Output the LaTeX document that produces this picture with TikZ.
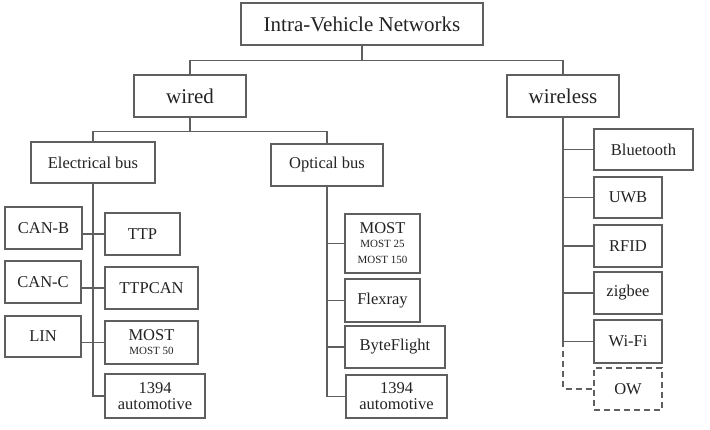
\documentclass[tikz,border=0pt]{standalone}
\usepackage{fontspec}
\setmainfont{Liberation Serif}
\usepackage{tikz}
\usetikzlibrary{calc}

\definecolor{linegray}{RGB}{95,95,95}
\definecolor{textgray}{RGB}{35,35,35}

\begin{document}
\begin{tikzpicture}[
    x=1pt, y=-1pt,
    box/.style={rectangle, draw=linegray, line width=1.2pt, fill=white, inner sep=1pt,
        align=center, text=textgray, font=\fontsize{16.5}{17}\selectfont},
    head/.style={box, font=\fontsize{21}{23}\selectfont},
    link/.style={draw=linegray, line width=1.2pt},
    dashes/.style={dash pattern=on 6pt off 4pt}
]
    \useasboundingbox (0,0) rectangle (710,430);

    % Root and first level
    \node[head, minimum width=242pt, minimum height=42pt] (root) at (362,24) {Intra-Vehicle Networks};
    \node[head, minimum width=112pt, minimum height=42pt] (wired) at (190,96) {wired};
    \node[head, minimum width=112pt, minimum height=42pt] (wireless) at (563,96) {wireless};

    \draw[link] (root.south) -- ++(0,15) -| (wired.north);
    \draw[link] (root.south) -- ++(0,15) -| (wireless.north);

    % Wired: bus types
    \node[box, minimum width=124pt, minimum height=41pt] (elec) at (93,162.5) {Electrical bus};
    \node[box, minimum width=112pt, minimum height=42pt] (opt) at (327,165) {Optical bus};

    \draw[link] (wired.south) -- ++(0,14) -| (elec.north);
    \draw[link] (wired.south) -- ++(0,14) -| (opt.north);

    % Electrical bus
    \node[box, minimum width=77pt, minimum height=42pt] (canb) at (43.5,228) {CAN-B};
    \node[box, minimum width=76pt, minimum height=42pt] (canc) at (43,282) {CAN-C};
    \node[box, minimum width=76pt, minimum height=41pt] (lin) at (43,336.5) {LIN};
    \node[box, minimum width=75pt, minimum height=42pt] (ttp) at (142.5,234) {TTP};
    \node[box, minimum width=93pt, minimum height=42pt] (ttpcan) at (151.5,288) {TTPCAN};
    \node[box, minimum width=93pt, minimum height=43pt] (mostE) at (151.5,342.5)
        {MOST\\[-3pt]{\fontsize{11}{12}\selectfont MOST 50}};
    \node[box, minimum width=100pt, minimum height=44pt] (autoE) at (155,396)
        {1394\\[-1pt]automotive};

    \draw[link] (elec.south) |- (autoE.west);
    \draw[link] (ttp.west -| canb.east) -- (ttp.west);
    \draw[link] (ttpcan.west -| canc.east) -- (ttpcan.west);
    \draw[link] (mostE.west -| lin.east) -- (mostE.west);

    % Optical bus
    \node[box, minimum width=75pt, minimum height=59pt] (mostO) at (382.5,243.5)
        {MOST\\[-3pt]{\fontsize{11}{12}\selectfont MOST 25}\\[-1pt]{\fontsize{11}{12}\selectfont MOST 150}};
    \node[box, minimum width=75pt, minimum height=43pt] (flex) at (382.5,300.5) {Flexray};
    \node[box, minimum width=100pt, minimum height=42pt] (byte) at (395,347) {ByteFlight};
    \node[box, minimum width=101pt, minimum height=43pt] (autoO) at (396.5,396.5)
        {1394\\[-1pt]automotive};

    \draw[link] (opt.south) |- (autoO.west);
    \foreach \n in {mostO, flex, byte}
        \draw[link] (\n.west -| opt.south) -- (\n.west);

    % Wireless
    \node[box, minimum width=99pt, minimum height=41pt] (bt) at (643.5,149.5) {Bluetooth};
    \node[box, minimum width=68pt, minimum height=41pt] (uwb) at (628,197.5) {UWB};
    \node[box, minimum width=68pt, minimum height=42pt] (rfid) at (628,246) {RFID};
    \node[box, minimum width=68pt, minimum height=42pt] (zig) at (628,293) {zigbee};
    \node[box, minimum width=68pt, minimum height=43pt] (wifi) at (628,341.5) {Wi-Fi};
    \node[box, dashes, minimum width=68pt, minimum height=42pt] (ow) at (628,389) {OW};

    \draw[link] (wireless.south) |- (wifi.west);
    \foreach \n in {bt, uwb, rfid, zig}
        \draw[link] (\n.west -| wireless.south) -- (\n.west);
    \draw[link, dashes] (wifi.west -| wireless.south) |- (ow.west);

\end{tikzpicture}
\end{document}
